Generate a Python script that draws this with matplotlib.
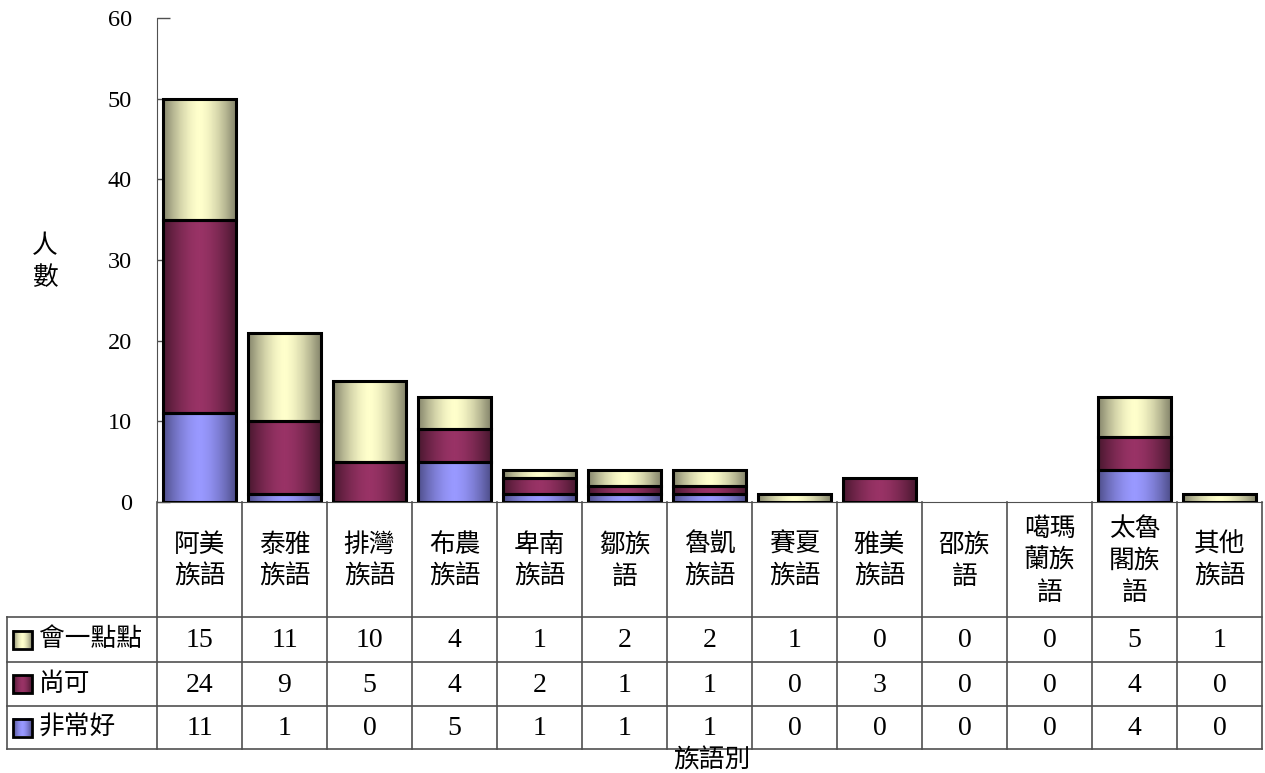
import numpy as np
import matplotlib
matplotlib.use("Agg")
import matplotlib.pyplot as plt
from matplotlib.colors import LinearSegmentedColormap

# data
categories = ['阿美\n族語', '泰雅\n族語', '排灣\n族語', '布農\n族語', '卑南\n族語', '鄒族\n語',
              '魯凱\n族語', '賽夏\n族語', '雅美\n族語', '邵族\n語', '噶瑪\n蘭族\n語', '太魯\n閣族\n語', '其他\n族語']
very_good = [11, 1, 0, 5, 1, 1, 1, 0, 0, 0, 0, 4, 0]      # 非常好
ok = [24, 9, 5, 4, 2, 1, 1, 0, 3, 0, 0, 4, 0]              # 尚可
a_little = [15, 11, 10, 4, 1, 2, 2, 1, 0, 0, 0, 5, 1]      # 會一點點
y_ticks = [0, 10, 20, 30, 40, 50, 60]

CJK = ['Noto Sans CJK TC', 'DejaVu Sans']
NUM = 'Liberation Serif'
GRID = '#505050'

# (dark edge, light centre) for each series gradient
shades = {
    '非常好': ('#4f4f8c', '#9999ff'),
    '尚可': ('#4a1830', '#993366'),
    '會一點點': ('#86866c', '#ffffcc'),
}

W, H = 1265, 773
fig = plt.figure(figsize=(W / 100, H / 100), dpi=100)

# plot area in pixels
left, right, top, base = 157, 1262, 18, 502
ax = fig.add_axes([left / W, (H - base) / H, (right - left) / W, (base - top) / H])

ramp = np.linspace(0, 1, 64)
prof = 1 - np.abs(2 * ramp - 1) ** 1.6


def grad_cmap(name):
    dark, light = shades[name]
    return LinearSegmentedColormap.from_list(name, [dark, light])


def draw_series(vals, bottoms, name):
    idx = [i for i, v in enumerate(vals) if v > 0]
    bars = ax.bar(idx, [vals[i] for i in idx], bottom=[bottoms[i] for i in idx], width=0.85,
                  facecolor='none', edgecolor='black', linewidth=2.2, zorder=3)
    cm = grad_cmap(name)
    for b in bars:
        x0, y0 = b.get_x(), b.get_y()
        ax.imshow(prof[None, :], cmap=cm, vmin=0, vmax=1, aspect='auto',
                  extent=[x0, x0 + b.get_width(), y0, y0 + b.get_height()], zorder=2)


bottom = np.zeros(len(categories))
draw_series(very_good, bottom, '非常好')
bottom = bottom + np.array(very_good)
draw_series(ok, bottom, '尚可')
bottom = bottom + np.array(ok)
draw_series(a_little, bottom, '會一點點')

ax.set_xlim(-0.5, len(categories) - 0.5)
ax.set_ylim(0, 60)
ax.set_yticks(y_ticks)
ax.set_yticklabels([str(t) for t in y_ticks], fontfamily=NUM, fontsize=17.5)
ax.tick_params(axis='y', direction='in', length=9, width=1, color=GRID, pad=18)
ax.set_xticks([])
for s in ['top', 'right']:
    ax.spines[s].set_visible(False)
ax.spines['left'].set_color(GRID)
ax.spines['bottom'].set_color(GRID)
ax.patch.set_alpha(0)

# overlay in pixel coordinates for the data table
ov = fig.add_axes([0, 0, 1, 1], zorder=-1)
ov.axis('off')

n = len(categories)
colw = (right - left) / n
row_lines = [617, 662, 706, 749]
tab_left = 7

for i in range(n + 1):
    ov.plot([left + i * colw] * 2, [base, row_lines[-1]], color=GRID, lw=1.2)
for yl in row_lines:
    ov.plot([tab_left, right], [yl, yl], color=GRID, lw=1.2)
ov.plot([tab_left, tab_left], [row_lines[0], row_lines[-1]], color=GRID, lw=1.2)

for i, c in enumerate(categories):
    ov.text(left + (i + 0.5) * colw, 561, c, ha='center', va='center', fontsize=18.5,
            family=CJK, linespacing=1.3)

rows = [(a_little, '會一點點'), (ok, '尚可'), (very_good, '非常好')]
for r, (vals, name) in enumerate(rows):
    yc = (row_lines[r] + row_lines[r + 1]) / 2
    for i, v in enumerate(vals):
        ov.text(left + (i + 0.5) * colw, yc + 1, str(v), ha='center', va='center',
                fontsize=20, family=NUM)
    # legend swatch
    sx0, sx1 = 13, 32
    sy0, sy1 = yc - 9, yc + 9
    ov.imshow(prof[None, :], cmap=grad_cmap(name), vmin=0, vmax=1, aspect='auto',
              extent=[sx0, sx1, sy1, sy0], zorder=2)
    ov.add_patch(plt.Rectangle((sx0, sy0), sx1 - sx0, sy1 - sy0, fill=False,
                               edgecolor='black', lw=2, zorder=3))
    ov.text(39, yc, name, ha='left', va='center', fontsize=18.5, family=CJK)

ov.set_xlim(0, W)
ov.set_ylim(H, 0)

ov.text(712, 761, '族語別', ha='center', va='center', fontsize=18.5, family=CJK)
ov.text(45, 262, '人\n數', ha='center', va='center', fontsize=18.5, family=CJK, linespacing=1.3)

fig.savefig('out.png', dpi=100)
